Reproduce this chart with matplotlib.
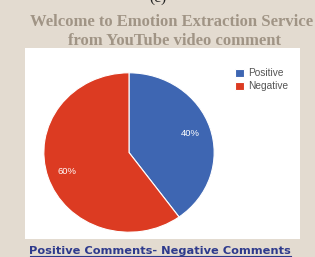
import matplotlib
matplotlib.use("Agg")
import matplotlib.pyplot as plt
from matplotlib.patches import Rectangle

labels = ["Positive", "Negative"]
shares = [40, 60]
colors = ["#3e66b2", "#dc3b22"]

W, H = 315, 257
fig = plt.figure(figsize=(W / 100, H / 100), dpi=100)
fig.patch.set_facecolor("#e3dbd0")


def fx(px):
    return px / W


def fy(py):
    return 1 - py / H


# white panel behind the chart
fig.patches.append(Rectangle((fx(25), fy(239)), fx(300) - fx(25), fy(48) - fy(239),
                             transform=fig.transFigure, facecolor="white",
                             edgecolor="none", zorder=-1))

# panel label, cut off by the top edge like in the source image
fig.text(0.5, fy(-2), "(c)", ha="center", va="center", fontsize=11,
         family="Liberation Serif", color="#222222")
fig.text(fx(172), fy(22), "Welcome to Emotion Extraction Service",
         ha="center", va="center", fontsize=12, fontweight="bold",
         family="Liberation Serif", color="#a09485")
fig.text(fx(175), fy(41), "from YouTube video comment",
         ha="center", va="center", fontsize=12, fontweight="bold",
         family="Liberation Serif", color="#a09485")

ax = fig.add_axes([fx(43), fy(233), fx(215) - fx(43), fy(72) - fy(233)])
wedges, _, autotexts = ax.pie(shares, colors=colors, startangle=90, counterclock=False,
                              autopct="%d%%", pctdistance=0.76,
                              wedgeprops=dict(edgecolor="white", linewidth=0.8),
                              textprops=dict(color="white", fontsize=6.8,
                                             family="Liberation Sans"))
ax.set_aspect("auto")
ax.set_xlim(-1.01, 1.01)
ax.set_ylim(-1.01, 1.01)
ax.axis("off")

leg = fig.legend(wedges, labels, loc="upper left", bbox_to_anchor=(fx(230), fy(63)),
                 frameon=False, fontsize=7.3, handlelength=0.85, handleheight=0.85,
                 handletextpad=0.45, labelspacing=0.3, borderpad=0)
for t in leg.get_texts():
    t.set_color("#555555")
    t.set_family("Liberation Sans")

fig.text(fx(160), fy(251), "Positive Comments- Negative Comments",
         ha="center", va="center", fontsize=8.2, fontweight="bold",
         family="DejaVu Sans", color="#2e3a8c")
fig.add_artist(plt.Line2D([fx(30), fx(291)], [fy(255.8), fy(255.8)],
                          transform=fig.transFigure, color="#2e3a8c", linewidth=0.8))

fig.savefig("out.png", dpi=100, facecolor=fig.get_facecolor())
